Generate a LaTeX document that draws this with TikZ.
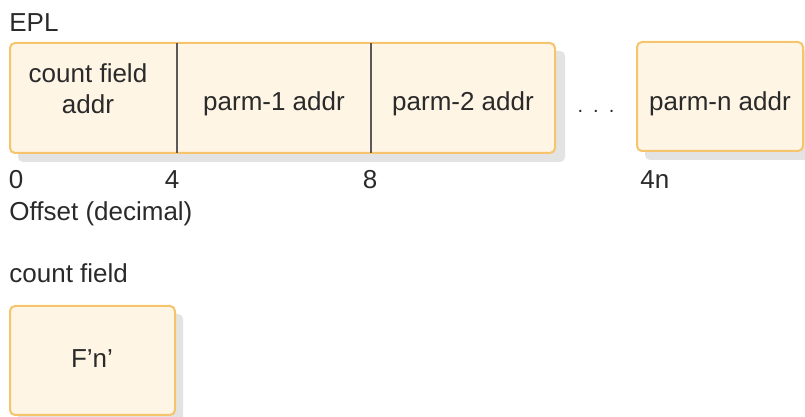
\documentclass[tikz,border=0pt]{standalone}
\usepackage{fontspec}
\setmainfont{Liberation Sans}
\definecolor{cellfill}{HTML}{FFF5E5}
\definecolor{celledge}{HTML}{F6C46C}
\definecolor{shade}{HTML}{E3E3E3}
\definecolor{ink}{HTML}{2A2A2A}
\definecolor{divider}{HTML}{5A5A5A}
\begin{document}
\begin{tikzpicture}[x=0.5pt,y=-0.5pt,
  every node/.style={font=\fontsize{13}{15.5}\selectfont, text=ink, inner sep=0pt},
  cellbox/.style={draw=celledge, fill=cellfill, line width=1pt, rounded corners=2.5pt},
  shadowbox/.style={fill=shade, rounded corners=2.5pt},
  cell/.style={align=center},
  lbl/.style={anchor=west}]
\useasboundingbox (0,0) rectangle (805,417);

% shadows
\fill[shadowbox] (18,51) rectangle (565,162);
\fill[shadowbox] (645,50) rectangle (811,160);
\fill[shadowbox] (18,314) rectangle (183,423);

% EPL block with three cells
\draw[cellbox] (10,43) rectangle (555,153);
\draw[divider, line width=1pt] (177,43) -- (177,153);
\draw[divider, line width=1pt] (371,43) -- (371,153);
\node[cell] (c0) at (88,89) {count field\\addr};
\node[cell] (c1) at (274,104) {parm-1 addr};
\node[cell] (c2) at (463,104) {parm-2 addr};
\node[font=\fontsize{10}{12}\selectfont] (dots) at (596,111) {.\,\,\,.\,\,\,.};

% last cell
\draw[cellbox] (637,42) rectangle (803,151);
\node[cell] (cn) at (720,104) {parm-n addr};

% labels
\node[lbl] (epl) at (9,23) {EPL};
\node (o0) at (16,180) {0};
\node (o4) at (172,180) {4};
\node (o8) at (370,180) {8};
\node[lbl] (o4n) at (640,180) {4n};
\node[lbl] (off) at (9,214) {Offset (decimal)};
\node[lbl] (cf) at (9,273) {count field};

% count field box
\draw[cellbox] (10,306) rectangle (175,415);
\node[cell] (fn) at (92,359) {F'n'};
\end{tikzpicture}
\end{document}
